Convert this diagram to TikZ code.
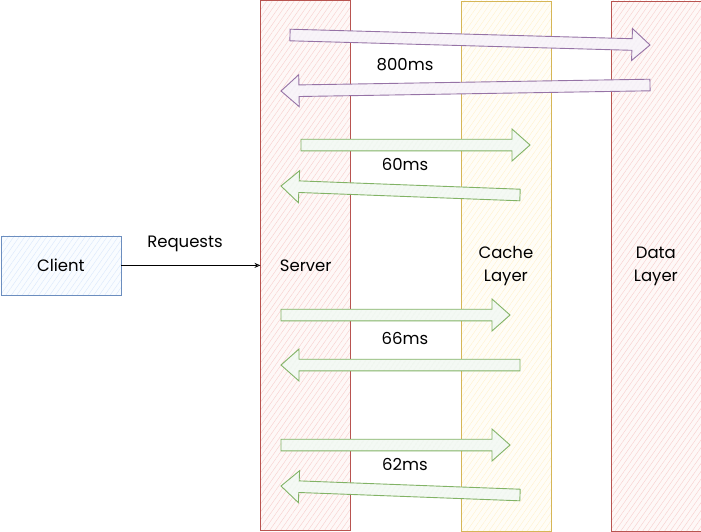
\documentclass[tikz,border=0pt]{standalone}
\usepackage{fontspec}
\setmainfont{Poppins}
\usetikzlibrary{calc,patterns.meta,arrows.meta}
\definecolor{bluS}{HTML}{6C8EBF}\definecolor{bluF}{HTML}{DAE8FC}
\definecolor{redS}{HTML}{B85450}\definecolor{redF}{HTML}{F8CECC}
\definecolor{yelS}{HTML}{D6B656}\definecolor{yelF}{HTML}{FFF2CC}
\definecolor{purS}{HTML}{9673A6}\definecolor{purF}{HTML}{E1D5E7}
\definecolor{grnS}{HTML}{82B366}\definecolor{grnF}{HTML}{D5E8D4}
\tikzset{
  txt/.style={font=\fontsize{16.5}{23}\selectfont},
  hatch/.style 2 args={draw=#1, line width=0.8pt,
    preaction={fill=#2!15!white},
    pattern={Lines[angle=55,distance=4.5pt,line width=0.4pt]}, pattern color=#2},
  colbox/.style 2 args={hatch={#1}{#2}, minimum width=90pt, minimum height=530pt,
    inner sep=0pt, align=center, txt},
  lbl/.style={txt, inner sep=0pt},
  blk/.style 2 args={draw=#1, line width=0.9pt, line join=miter,
    preaction={fill=#2!25!white},
    pattern={Lines[angle=55,distance=4pt,line width=0.35pt]}, pattern color=#2}
}
\newcommand{\blkarrow}[3]{%
  \coordinate (#2h) at ($(#3)!18pt!(#2)$);
  \draw[#1] ($(#2)!5.8pt!90:(#3)$) -- ($(#2h)!5.8pt!-90:(#2)$)
    -- ($(#2h)!16pt!-90:(#2)$) -- (#3) -- ($(#2h)!16pt!90:(#2)$)
    -- ($(#2h)!5.8pt!90:(#2)$) -- ($(#2)!5.8pt!-90:(#3)$) -- cycle;}
\begin{document}
\begin{tikzpicture}[x=1pt,y=-1pt]
\useasboundingbox (0,0) rectangle (701,531);
% columns
\node[colbox={redS}{redF}, anchor=north west] (server) at (260.5,0.5) {Server};
\node[colbox={yelS}{yelF}, anchor=north west] (cache) at (460.5,0.5) {Cache\\Layer};
\node[colbox={redS}{redF}, anchor=north west] (data) at (610.5,0.5) {Data\\Layer};
% client
\node[hatch={bluS}{bluF}, minimum width=120pt, minimum height=59pt, inner sep=0pt,
  anchor=north west, txt] (client) at (0.5,235.5) {Client};
\draw[-{Stealth[open,length=6pt,width=5pt]}, line width=0.7pt] (client.east) -- (server.west |- client.east);
\node[lbl] (req) at (185,244) {Requests};
% block arrows
\coordinate (a1) at (290,35);  \coordinate (b1) at (650,45);
\coordinate (a2) at (650,85);  \coordinate (b2) at (281,91);
\coordinate (a3) at (301,145); \coordinate (b3) at (530,145);
\coordinate (a4) at (520,195); \coordinate (b4) at (281,186);
\coordinate (a5) at (281,315); \coordinate (b5) at (510,315);
\coordinate (a6) at (520,365); \coordinate (b6) at (281,365);
\coordinate (a7) at (281,445); \coordinate (b7) at (510,445);
\coordinate (a8) at (520,495); \coordinate (b8) at (281,486);
\blkarrow{blk={purS}{purF}}{a1}{b1}
\blkarrow{blk={purS}{purF}}{a2}{b2}
\blkarrow{blk={grnS}{grnF}}{a3}{b3}
\blkarrow{blk={grnS}{grnF}}{a4}{b4}
\blkarrow{blk={grnS}{grnF}}{a5}{b5}
\blkarrow{blk={grnS}{grnF}}{a6}{b6}
\blkarrow{blk={grnS}{grnF}}{a7}{b7}
\blkarrow{blk={grnS}{grnF}}{a8}{b8}
% labels
\node[lbl] (l1) at (405,65) {800ms};
\node[lbl] (l2) at (405,164) {60ms};
\node[lbl] (l3) at (405,338) {66ms};
\node[lbl] (l4) at (405,464) {62ms};
\end{tikzpicture}
\end{document}
